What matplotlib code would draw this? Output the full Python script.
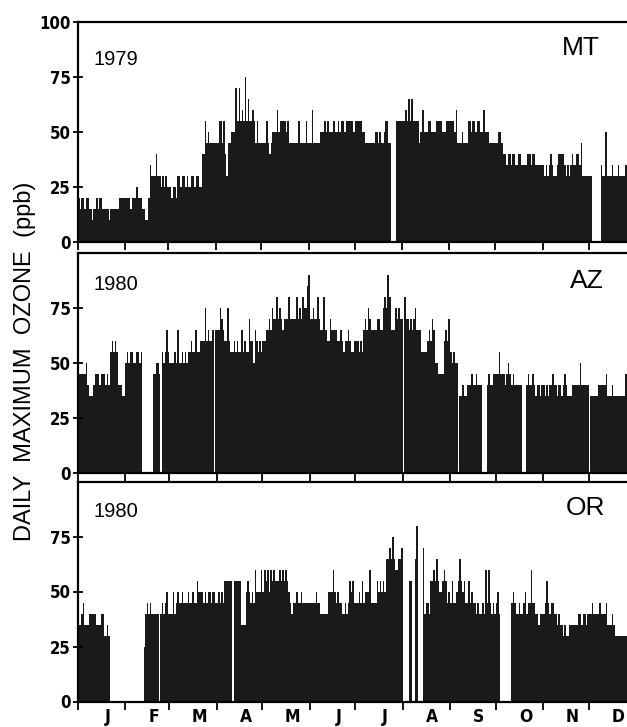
import matplotlib
matplotlib.use("Agg")
import matplotlib.pyplot as plt
from matplotlib import font_manager
import numpy as np

# ---------------- data (daily maximum ozone, ppb) ----------------
month_letters = ["J", "F", "M", "A", "M", "J", "J", "A", "S", "O", "N", "D"]
days_1979 = [31, 28, 31, 30, 31, 30, 31, 31, 30, 31, 30, 31]
days_1980 = [31, 29, 31, 30, 31, 30, 31, 31, 30, 31, 30, 31]

mt_1979 = [
    [20,15,20,20,15,20,20,15,15,10,15,15,20,15,20,20,15,15,15,15,10,15,15,15,15,15,15,20,20,20,20],
    [20,20,20,15,20,20,20,25,20,20,20,15,15,10,10,20,35,30,30,30,40,30,30,25,30,25,30,25],
    [25,25,20,25,25,20,30,30,25,30,30,25,30,25,25,30,30,25,30,30,25,25,40,40,55,45,50,45,45,45,45],
    [45,45,55,55,45,55,40,30,45,45,50,50,50,70,55,70,55,60,55,75,55,65,55,55,60,55,45,55,45,45],
    [45,45,45,55,45,40,45,50,50,50,60,50,55,55,55,55,50,55,45,45,45,45,45,45,55,45,45,45,45,55,45],
    [45,45,60,45,45,45,45,50,50,50,55,50,55,50,50,50,55,50,50,55,50,55,55,50,55,55,55,55,55,50],
    [55,55,55,55,55,50,50,45,45,45,45,45,45,50,50,45,50,45,45,50,55,55,45,45,0,0,0,55,55,55,55],
    [55,55,60,55,65,55,65,55,55,55,55,45,50,60,50,50,50,55,55,50,50,50,55,55,55,55,50,50,50,55,55],
    [55,55,55,50,60,45,45,45,50,45,45,45,55,55,50,55,55,50,55,55,50,50,60,50,50,50,45,45,45,45],
    [45,45,50,50,45,40,40,35,40,40,35,40,40,35,35,40,40,35,35,35,35,40,40,35,40,40,35,35,35,35,35],
    [35,30,35,30,35,40,35,30,30,35,40,40,40,40,35,30,35,30,35,40,35,35,40,40,35,45,30,30,30,30],
    [30,30,0,0,0,0,0,0,35,30,30,50,30,30,30,35,30,30,30,35,30,30,30,30,35,30,30,30,30,30,30],
]

az_1980 = [
    [45,45,45,45,45,50,40,35,35,35,40,45,45,45,40,45,45,45,40,45,40,55,60,55,60,55,40,40,40,35,35],
    [50,55,50,55,55,50,50,55,55,50,55,0,0,0,0,0,0,0,45,45,50,50,45,0,55,50,55,65,55],
    [50,50,50,55,50,65,50,50,55,50,55,50,55,55,60,55,55,65,55,55,60,60,60,75,60,65,60,60,65,0,65],
    [65,65,75,70,65,60,60,75,60,55,55,60,55,60,55,55,65,55,60,55,55,70,60,60,50,65,60,55,60,55],
    [60,60,65,65,70,65,75,70,70,80,70,75,70,65,70,70,70,80,70,70,70,70,80,70,75,70,80,75,75,85,90],
    [70,70,75,70,70,80,70,65,65,80,65,60,60,70,65,65,65,65,60,60,65,60,55,60,60,65,60,55,55,60],
    [60,60,55,60,55,65,70,65,75,70,65,65,65,65,70,70,65,65,75,80,75,90,80,65,65,65,75,70,75,70,70],
    [0,80,70,70,65,70,65,70,75,65,65,65,55,55,55,55,60,65,60,70,65,50,50,45,45,45,45,60,65,60,70],
    [55,50,55,50,50,0,35,35,40,35,35,40,40,40,45,40,40,45,40,40,40,0,0,0,40,45,40,40,45,45],
    [45,45,55,45,45,45,40,45,50,45,40,45,40,40,40,40,40,0,0,0,40,45,40,40,45,40,35,40,40,35,40],
    [40,35,40,35,40,40,45,40,40,35,40,40,35,40,45,40,35,35,35,40,40,40,40,40,50,40,40,40,40,40],
    [0,35,35,35,35,35,40,40,40,40,40,45,35,35,35,40,35,35,35,35,35,35,35,35,45,35,35,35,35,35,35],
]

or_1980 = [
    [35,35,40,45,35,35,35,40,40,40,40,40,35,35,35,40,40,30,30,35,30,0,0,0,0,0,0,0,0,0,0],
    [0,0,0,0,0,0,0,0,0,0,0,0,25,40,45,40,45,40,40,40,40,40,0,40,45,40,45,50,40],
    [40,40,50,40,45,50,45,45,50,45,45,45,50,45,45,50,45,45,55,50,50,50,45,50,45,50,50,45,50,50,45],
    [45,50,45,50,45,55,55,55,55,55,0,55,55,55,55,55,35,35,35,50,55,50,45,50,45,60,50,50,50,60],
    [50,60,55,60,50,60,55,60,55,55,55,60,55,60,55,60,55,50,45,40,45,45,50,45,45,50,45,45,45,45,45],
    [45,45,45,45,50,45,45,40,40,40,40,40,50,50,50,60,50,45,50,45,45,40,40,45,40,45,55,50,55,45],
    [45,45,50,45,55,45,50,50,50,60,45,45,45,45,55,50,55,50,55,50,65,65,70,65,75,65,60,60,65,65,70],
    [0,0,0,0,55,55,0,0,65,80,0,0,0,70,40,45,45,40,55,55,60,55,65,55,50,50,55,60,55,45,50],
    [45,55,45,45,50,55,65,55,50,55,45,45,55,45,50,45,45,40,45,40,40,45,40,60,45,60,45,40,45,40],
    [45,50,40,0,0,0,0,0,0,0,45,50,45,40,40,45,40,40,45,50,40,45,45,60,45,45,40,40,35,40,40],
    [40,45,55,45,40,45,45,40,40,35,40,35,35,30,35,30,30,35,35,35,35,35,35,40,40,35,40,40,35,40],
    [40,40,45,40,40,40,40,45,40,40,40,45,35,35,35,40,35,30,30,30,30,30,30,30,30,30,30,30,30,30,30],
]

panels = [
    ("1979", "MT", mt_1979, days_1979, [0, 25, 50, 75, 100]),
    ("1980", "AZ", az_1980, days_1980, [0, 25, 50, 75]),
    ("1980", "OR", or_1980, days_1980, [0, 25, 50, 75]),
]

# ---------------- fonts ----------------
def find_condensed_bold():
    best = None
    for f in font_manager.fontManager.ttflist:
        fn = f.fname.lower()
        is_cond = ("condensed" in fn or "narrow" in fn or
                   str(f.stretch) in ("condensed", "semi-condensed", "extra-condensed",
                                      "ultra-condensed"))
        if not is_cond or "mono" in fn or "serif" in fn.replace("sans", ""):
            continue
        w = f.weight if isinstance(f.weight, int) else (700 if "bold" in str(f.weight) else 400)
        score = abs(w - 700)
        if "italic" in fn or "oblique" in fn:
            score += 1000
        if best is None or score < best[0]:
            best = (score, f.fname)
    return best[1] if best else None

cond_file = find_condensed_bold()
if cond_file:
    tick_fp = font_manager.FontProperties(fname=cond_file, size=12)
    month_fp = font_manager.FontProperties(fname=cond_file, size=12.5)
else:
    tick_fp = font_manager.FontProperties(family="Liberation Sans", weight="bold", size=11.5)
    month_fp = font_manager.FontProperties(family="Liberation Sans", weight="bold", size=11.5)

plain = "Liberation Sans"

# ---------------- figure ----------------
W, H = 627, 727
fig = plt.figure(figsize=(W / 100, H / 100), dpi=100)
BAR = "#1a1a1a"

def fx(px):
    return px / W

def fy(py):
    return 1 - py / H

ax_left = 78
ax_right = 636  # extends past the right image edge (cropped as in the scan)
panel_px = [(22, 242), (253, 473), (481.5, 701.5)]

year_pos = [(94, 65), (94, 290), (94, 517)]
state_pos = [(600, 55), (604, 288), (605, 515)]

for i, (year, state, months, mdays, yt) in enumerate(panels):
    top, bot = panel_px[i]
    ax = fig.add_axes([fx(ax_left), fy(bot), fx(ax_right - ax_left), (bot - top) / H])
    vals = [v for m in months for v in m]
    n = len(vals)
    x = np.arange(n)
    ax.bar(x, vals, width=1.0, align="edge", color=BAR, linewidth=0)
    ax.set_xlim(0, n)
    ax.set_ylim(0, 100)
    ax.spines["right"].set_visible(False)
    for s in ("top", "left", "bottom"):
        ax.spines[s].set_linewidth(1.6)
        ax.spines[s].set_color("black")
    ax.set_yticks(yt)
    ax.set_yticklabels([str(v) for v in yt], fontproperties=tick_fp)
    ax.tick_params(axis="y", direction="inout", length=7, width=1.3, pad=1.5)
    starts = np.concatenate([[0], np.cumsum(mdays)[:-1]])
    ax.set_xticks(starts)
    ax.set_xticklabels([""] * len(starts))
    ax.tick_params(axis="x", which="major", direction="out", length=6, width=1.3)
    if i == 2:
        centers = starts + np.array(mdays) / 2.0 + 4
        ax.set_xticks(centers, minor=True)
        ax.set_xticklabels(month_letters, minor=True, fontproperties=month_fp)
        ax.tick_params(axis="x", which="minor", length=0, pad=5)
    fig.text(fx(year_pos[i][0]), fy(year_pos[i][1]), year, ha="left", va="baseline",
             fontsize=14.5, family=plain)
    fig.text(fx(state_pos[i][0]), fy(state_pos[i][1]), state, ha="right", va="baseline",
             fontsize=19, family=plain)

fig.text(fx(25), fy(361), "DAILY  MAXIMUM  OZONE  (ppb)", rotation=90, ha="center",
         va="center", fontsize=17, family=plain)

fig.savefig("out.png", dpi=100)
